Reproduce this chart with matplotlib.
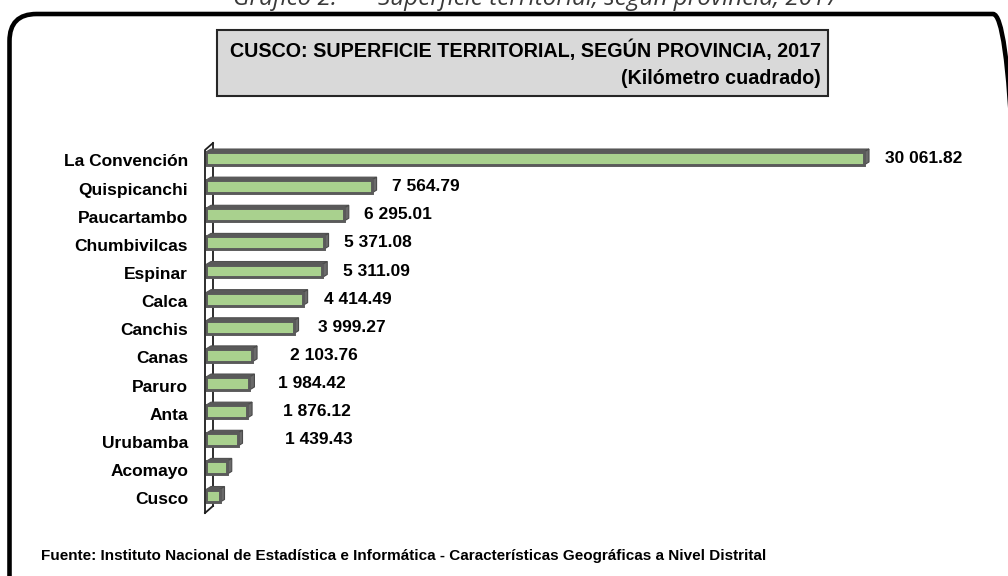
import matplotlib
matplotlib.use("Agg")
import matplotlib.pyplot as plt
from matplotlib.patches import Polygon, Rectangle, FancyBboxPatch
from matplotlib.lines import Line2D
from matplotlib.transforms import IdentityTransform, ScaledTranslation
import numpy as np

plt.rcParams['font.family'] = ['Liberation Sans', 'DejaVu Sans']

# ---------------- data ----------------
provinces = ["La Convención", "Quispicanchi", "Paucartambo", "Chumbivilcas",
             "Espinar", "Calca", "Canchis", "Canas", "Paruro", "Anta",
             "Urubamba", "Acomayo", "Cusco"]
areas = [30061.82, 7564.79, 6295.01, 5371.08, 5311.09, 4414.49, 3999.27,
         2103.76, 1984.42, 1876.12, 1439.43, 948.22, 617.00]
show_label = [True] * 11 + [False] * 2

title_line1 = "CUSCO: SUPERFICIE TERRITORIAL, SEGÚN PROVINCIA, 2017"
title_line2 = "(Kilómetro cuadrado)"
caption_left = "Gráfico 2:"
caption_right = "Superficie territorial, según provincia, 2017"
source = ("Fuente: Instituto Nacional de Estadística e Informática - "
          "Características Geográficas a Nivel Distrital")

# label horizontal nudges (pixels) from bar end, as placed in the original
label_nudge_px = [21, 20, 20, 20, 21, 21, 24, 38, 29, 36, 47, 0, 0]


def fmt(v):
    return f"{v:,.2f}".replace(",", " ")


# ---------------- layout ----------------
W, H = 1008, 576
fig = plt.figure(figsize=(W / 100, H / 100), dpi=100)


def fx(px):
    return px / W


def fy(py):
    return 1 - py / H


ax_left, ax_right, ax_top, ax_bot = 206, 1000, 143, 513
ax = fig.add_axes([fx(ax_left), fy(ax_bot), (ax_right - ax_left) / W,
                   (ax_bot - ax_top) / H])
ax.set_xlim(0, 36275)
pitch = 28.125
ax.set_ylim(12 + (513 - 496) / pitch, -(158.5 - 143) / pitch)
for s in ax.spines.values():
    s.set_visible(False)
ax.set_xticks([])
ax.patch.set_alpha(0)

ypos = np.arange(len(provinces))
bh = 0.46
ax.barh(ypos, areas, height=bh, color='#a9d18e', edgecolor='#5a5a5a',
        linewidth=2.1, zorder=3)
ax.set_yticks(ypos, provinces, fontsize=12.5, fontweight='bold')
ax.tick_params(axis='y', length=0, pad=13)
for lab in ax.get_yticklabels():
    lab.set_transform(lab.get_transform() +
                      ScaledTranslation(0, -2 / 100, fig.dpi_scale_trans))

# 3-D depth faces computed from the data transform
dx, dy = 5, 3
for y, v in zip(ypos, areas):
    (x0, yb), (x1, yt) = ax.transData.transform([(0, y + bh / 2),
                                                 (v, y - bh / 2)])
    top = [(x0, yt), (x1, yt), (x1 + dx, yt + dy), (x0 + dx, yt + dy)]
    side = [(x1, yb), (x1 + dx, yb + dy), (x1 + dx, yt + dy), (x1, yt)]
    ax.add_patch(Polygon(top, closed=True, transform=IdentityTransform(),
                         fc='#5a5a5a', ec='#505050', lw=0.8, zorder=2.5,
                         clip_on=False))
    ax.add_patch(Polygon(side, closed=True, transform=IdentityTransform(),
                         fc='#6a6a6a', ec='#4a4a4a', lw=0.8, zorder=2.5,
                         clip_on=False))

# wall (3-D axis plane)
bb = ax.get_window_extent()
wx0 = bb.x0 - 1
wdx, wdy = 8, 7
wall_kw = dict(color='#1e1e1e', lw=1.3, transform=IdentityTransform())
front = Line2D([wx0, wx0, wx0 + wdx], [bb.y0, bb.y1 - wdy, bb.y1], zorder=4, **wall_kw)
back = Line2D([wx0 + wdx, wx0 + wdx], [bb.y1, bb.y0 + wdy], zorder=1, **wall_kw)
bottom = Line2D([wx0, wx0 + wdx], [bb.y0, bb.y0 + wdy], zorder=1, **wall_kw)
for ln in (front, back, bottom):
    ln.set_clip_on(False)
    ax.add_line(ln)

# value labels
for y, v, show, nud in zip(ypos, areas, show_label, label_nudge_px):
    if show:
        ax.annotate(fmt(v), xy=(v, y), xytext=(nud * 0.72, 0),
                    textcoords='offset points', ha='left', va='center',
                    fontsize=12.5, fontweight='bold', color='black',
                    annotation_clip=False)

# title box
fig.add_artist(Rectangle((fx(217), fy(96)), (828 - 217) / W, (96 - 30) / H,
                         transform=fig.transFigure, fc='#d9d9d9',
                         ec='#262626', lw=1.5))
fig.text(fx(821), fy(50), title_line1, ha='right', va='center',
         fontsize=14.2, fontweight='bold')
fig.text(fx(821), fy(78), title_line2, ha='right', va='center',
         fontsize=14.2, fontweight='bold')

# source
fig.text(fx(41), fy(556), source, ha='left', va='center', fontsize=11,
         fontweight='bold')

# outer rounded frame
fig.add_artist(FancyBboxPatch((9.5, -40), 1020 - 9.5, (H - 14) + 40,
                              boxstyle="round,pad=0,rounding_size=27",
                              transform=IdentityTransform(), fill=False,
                              ec='black', lw=3.3))

# top caption (cut off in the original)
cap_kw = dict(style='italic', color='#3a3a3a', fontsize=17.5, va='baseline',
              family=['Open Sans', 'DejaVu Sans'])
fig.text(fx(233), fy(5), caption_left, **cap_kw)
fig.text(fx(378), fy(5), caption_right, **cap_kw)

fig.savefig("out.png", dpi=100)
